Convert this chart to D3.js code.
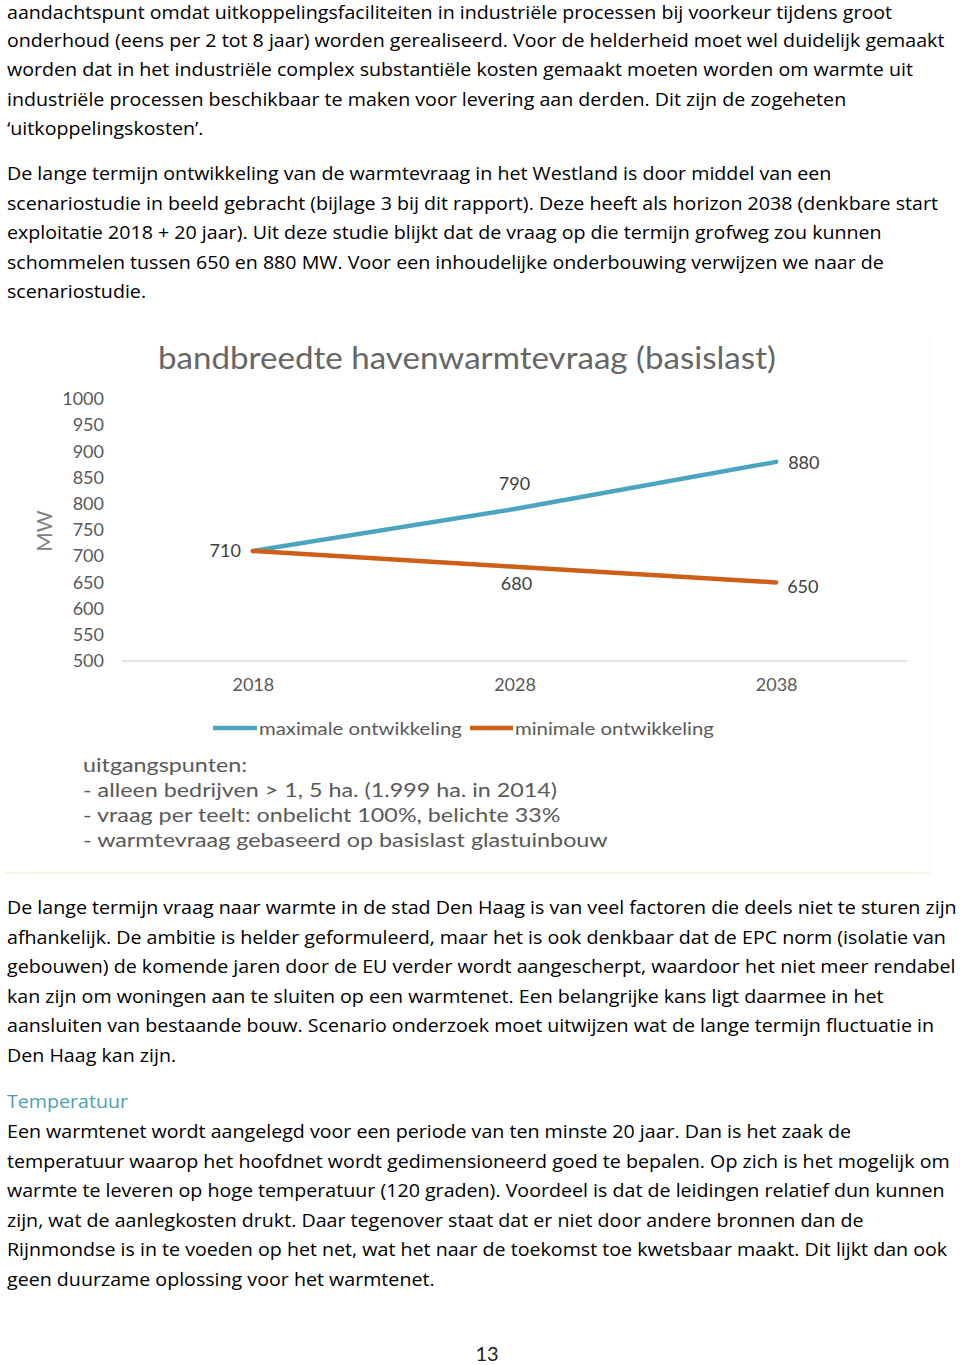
<!DOCTYPE html>
<html><head><meta charset="utf-8">
<script src="https://cdn.jsdelivr.net/npm/d3@7"></script>
<style>body{margin:0;background:#fff}svg{display:block}</style>
</head><body>
<svg id="c" width="960" height="1365"></svg>
<script>
// ---------- data ----------
const years = ["2018", "2028", "2038"];
const maxValues = [710, 790, 880];
const minValues = [710, 680, 650];
const yTicks = [500, 550, 600, 650, 700, 750, 800, 850, 900, 950, 1000];
const seriesNames = ["maximale ontwikkeling", "minimale ontwikkeling"];
const chartTitle = "bandbreedte havenwarmtevraag (basislast)";
const yLabel = "MW";
const notes = [
  "uitgangspunten:",
  "- alleen bedrijven > 1, 5 ha. (1.999 ha. in 2014)",
  "- vraag per teelt: onbelicht 100%, belichte 33%",
  "- warmtevraag gebaseerd op basislast glastuinbouw"
];
const para1 = [
  "aandachtspunt omdat uitkoppelingsfaciliteiten in industriële processen bij voorkeur tijdens groot",
  "onderhoud (eens per 2 tot 8 jaar) worden gerealiseerd. Voor de helderheid moet wel duidelijk gemaakt",
  "worden dat in het industriële complex substantiële kosten gemaakt moeten worden om warmte uit",
  "industriële processen beschikbaar te maken voor levering aan derden. Dit zijn de zogeheten",
  "‘uitkoppelingskosten’."
];
const para2 = [
  "De lange termijn ontwikkeling van de warmtevraag in het Westland is door middel van een",
  "scenariostudie in beeld gebracht (bijlage 3 bij dit rapport). Deze heeft als horizon 2038 (denkbare start",
  "exploitatie 2018 + 20 jaar). Uit deze studie blijkt dat de vraag op die termijn grofweg zou kunnen",
  "schommelen tussen 650 en 880 MW. Voor een inhoudelijke onderbouwing verwijzen we naar de",
  "scenariostudie."
];
const para3 = [
  "De lange termijn vraag naar warmte in de stad Den Haag is van veel factoren die deels niet te sturen zijn",
  "afhankelijk. De ambitie is helder geformuleerd, maar het is ook denkbaar dat de EPC norm (isolatie van",
  "gebouwen) de komende jaren door de EU verder wordt aangescherpt, waardoor het niet meer rendabel",
  "kan zijn om woningen aan te sluiten op een warmtenet. Een belangrijke kans ligt daarmee in het",
  "aansluiten van bestaande bouw. Scenario onderzoek moet uitwijzen wat de lange termijn fluctuatie in",
  "Den Haag kan zijn."
];
const heading = "Temperatuur";
const para4 = [
  "Een warmtenet wordt aangelegd voor een periode van ten minste 20 jaar. Dan is het zaak de",
  "temperatuur waarop het hoofdnet wordt gedimensioneerd goed te bepalen. Op zich is het mogelijk om",
  "warmte te leveren op hoge temperatuur (120 graden). Voordeel is dat de leidingen relatief dun kunnen",
  "zijn, wat de aanlegkosten drukt. Daar tegenover staat dat er niet door andere bronnen dan de",
  "Rijnmondse is in te voeden op het net, wat het naar de toekomst toe kwetsbaar maakt. Dit lijkt dan ook",
  "geen duurzame oplossing voor het warmtenet."
];
const pageNumber = "13";

// ---------- setup ----------
const svg = d3.select("#c");
const bodyFont = "'Open Sans', sans-serif";
const chartFont = "Lato, 'Noto Sans', sans-serif";

function measure(str, font, size) {
  const t = svg.append("text").attr("font-family", font).attr("font-size", size).text(str);
  const w = t.node().getComputedTextLength();
  t.remove();
  return w;
}

// body text horizontal scale (fit Calibri-like metrics), never overflowing the page
const bodySize = 18;
const bodySx = Math.min(
  945 / measure(para1[1], bodyFont, bodySize),
  950 / measure(para3[0], bodyFont, bodySize),
  951 / measure(para3[2], bodyFont, bodySize)
);

function paragraph(lines, x, y0, lh, color) {
  const g = svg.append("g");
  lines.forEach((l, i) => {
    g.append("text")
      .attr("transform", `translate(${x},${y0 + i * lh}) scale(${bodySx},1)`)
      .attr("font-family", bodyFont).attr("font-size", bodySize)
      .attr("fill", color || "#000").text(l);
  });
}
const LH = 29.6;
paragraph([para1[0]], 7, 18.5, LH);
paragraph(para1.slice(1), 7, 17 + LH, LH);
paragraph(para2, 7, 180, LH);
paragraph(para3, 7, 914, LH);
paragraph([heading], 7, 1108, LH, "#4f9fb6");
paragraph(para4, 7, 1138, LH);

svg.append("text").attr("x", 487).attr("y", 1361).attr("text-anchor", "middle")
  .attr("font-family", chartFont).attr("font-size", 20).attr("fill", "#222").text(pageNumber);

// ---------- chart frame ----------
svg.append("line").attr("x1", 5).attr("x2", 930).attr("y1", 873).attr("y2", 873)
  .attr("stroke", "#f6f1d6").attr("stroke-width", 1.5);
svg.append("line").attr("x1", 929.5).attr("x2", 929.5).attr("y1", 335).attr("y2", 873)
  .attr("stroke", "#fbf9ec").attr("stroke-width", 1.5);

// ---------- chart ----------
const x = d3.scalePoint().domain(years).range([122, 907]).padding(0.5);
const y = d3.scaleLinear().domain([500, 1000]).range([661, 399]);
const gray = "#595959";

// title
const titleSize = 30;
const tW = measure(chartTitle, chartFont, titleSize);
svg.append("text")
  .attr("transform", `translate(158,369) scale(${618 / tW},1)`)
  .attr("font-family", chartFont).attr("font-size", titleSize).attr("fill", "#666")
  .text(chartTitle);

// y axis
const yAxis = svg.append("g").attr("transform", "translate(104,0)")
  .call(d3.axisLeft(y).tickValues(yTicks).tickFormat(d3.format("d")).tickSize(0).tickPadding(0));
yAxis.select(".domain").remove();
yAxis.selectAll("text").attr("font-family", chartFont).attr("font-size", 18).attr("fill", gray);

// baseline axis
svg.append("line").attr("x1", 122).attr("x2", 907).attr("y1", y(500)).attr("y2", y(500))
  .attr("stroke", "#d9d9d9").attr("stroke-width", 1.5);

// x axis labels
const xAxis = svg.append("g").attr("transform", `translate(0,${y(500) + 17})`)
  .call(d3.axisBottom(x).tickSize(0).tickPadding(0));
xAxis.select(".domain").remove();
xAxis.selectAll("text").attr("font-family", chartFont).attr("font-size", 18).attr("fill", gray);

// y label
svg.append("text").attr("transform", "translate(52,531) rotate(-90)")
  .attr("text-anchor", "middle").attr("font-family", chartFont).attr("font-size", 21)
  .attr("fill", "#7f7f7f").text(yLabel);

// lines
const colors = ["#4ba5c1", "#cd5f16"];
const series = [maxValues, minValues];
const line = d3.line().x((d, i) => x(years[i])).y(d => y(d));
series.forEach((vals, si) => {
  svg.append("path").datum(vals).attr("d", line).attr("fill", "none")
    .attr("stroke", colors[si]).attr("stroke-width", 4.5).attr("stroke-linecap", "round");
});

// data labels
const lblStyle = sel => sel.attr("font-family", chartFont).attr("font-size", 18).attr("fill", "#404040");
svg.append("text").attr("x", x(years[0]) - 12).attr("y", y(maxValues[0]) + 6)
  .attr("text-anchor", "end").call(lblStyle).text(maxValues[0]);
svg.append("text").attr("x", x(years[1])).attr("y", y(maxValues[1]) - 19)
  .attr("text-anchor", "middle").call(lblStyle).text(maxValues[1]);
svg.append("text").attr("x", x(years[2]) + 12).attr("y", y(maxValues[2]) + 7)
  .attr("text-anchor", "start").call(lblStyle).text(maxValues[2]);
svg.append("text").attr("x", x(years[1]) + 2).attr("y", y(minValues[1]) + 23)
  .attr("text-anchor", "middle").call(lblStyle).text(minValues[1]);
svg.append("text").attr("x", x(years[2]) + 11).attr("y", y(minValues[2]) + 11)
  .attr("text-anchor", "start").call(lblStyle).text(minValues[2]);

// legend + notes
const noteSize = 20;
const chartSx = 525 / measure(notes[3], chartFont, noteSize);
const legSize = 18;
const legSx = 203 / measure(seriesNames[0], chartFont, legSize);
const legendX = [[213, 257, 259], [470, 513, 515]];
seriesNames.forEach((n, i) => {
  const [a, b, t] = legendX[i];
  svg.append("line").attr("x1", a).attr("x2", b).attr("y1", 728).attr("y2", 728)
    .attr("stroke", colors[i]).attr("stroke-width", 4.5);
  svg.append("text").attr("transform", `translate(${t},734.5) scale(${legSx},1)`)
    .attr("font-family", chartFont).attr("font-size", legSize).attr("fill", gray).text(n);
});

notes.forEach((n, i) => {
  svg.append("text").attr("transform", `translate(83,${772 + i * 25}) scale(${chartSx},1)`)
    .attr("font-family", chartFont).attr("font-size", noteSize).attr("fill", gray).text(n);
});
</script>
</body></html>
